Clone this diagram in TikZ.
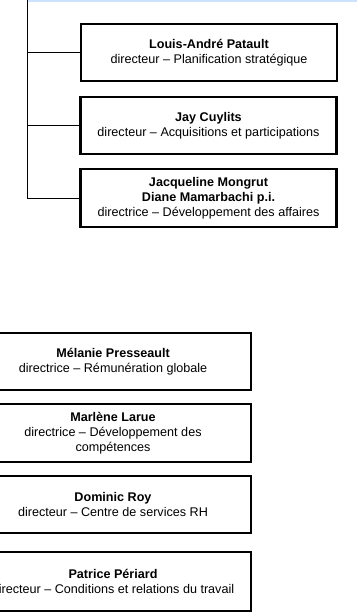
\documentclass[tikz,border=0pt]{standalone}
\usepackage{fontspec}
\setmainfont{Liberation Sans}
\definecolor{bandblue}{RGB}{204,226,255}
\tikzset{
  unit/.style={draw=black, line width=2.4pt, rectangle, align=center,
    inner sep=2pt, font=\fontsize{12.6}{15}\selectfont},
  topunit/.style={unit, minimum width=256pt, minimum height=57pt},
  lowunit/.style={unit, minimum width=276pt, minimum height=57pt},
  link/.style={draw=black, line width=0.9pt}
}
\begin{document}
\begin{tikzpicture}[x=1pt,y=-1pt]
\useasboundingbox (0,0) rectangle (357,616);
\begin{scope}
\clip (0,0) rectangle (357,616);

% edge of the parent unit above
\fill[bandblue] (27,0) rectangle (357,1.6);

% units reporting to the parent
\node[topunit] (b1) at (209,52.5)
  {\textbf{Louis-André Patault}\\directeur – Planification stratégique};
\node[topunit] (b2) at (208.5,125.5)
  {\textbf{Jay Cuylits}\\directeur – Acquisitions et participations};
\node[topunit, minimum height=58pt] (b3) at (208.5,198)
  {\textbf{Jacqueline Mongrut}\\\textbf{Diane Mamarbachi p.i.}\\directrice – Développement des affaires};

% reporting line
\coordinate (top) at (27,0);
\draw[link] (top) |- (b3.west);
\draw[link] (top |- b1.west) -- (b1.west);
\draw[link] (top |- b2.west) -- (b2.west);

% human resources units
\node[lowunit] (c1) at (113,361.5)
  {\textbf{Mélanie Presseault}\\directrice – Rémunération globale};
\node[lowunit, minimum height=58pt] (c2) at (113,433)
  {\textbf{Marlène Larue}\\directrice – Développement des\\compétences};
\node[lowunit] (c3) at (113,504.5)
  {\textbf{Dominic Roy}\\directeur – Centre de services RH};
\node[lowunit, minimum height=59pt] (c4) at (113,581.5)
  {\textbf{Patrice Périard}\\directeur – Conditions et relations du travail};
\end{scope}
\end{tikzpicture}
\end{document}
